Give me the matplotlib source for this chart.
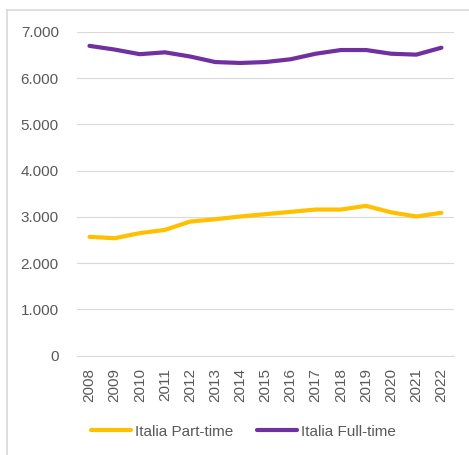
import matplotlib
matplotlib.use("Agg")
import matplotlib.pyplot as plt
from matplotlib.lines import Line2D
from matplotlib.ticker import FuncFormatter

# dati (migliaia)
years = ["2008", "2009", "2010", "2011", "2012", "2013", "2014", "2015",
         "2016", "2017", "2018", "2019", "2020", "2021", "2022"]
part_time = [2570, 2540, 2650, 2720, 2900, 2950, 3010, 3060,
             3110, 3160, 3160, 3240, 3100, 3010, 3090]
full_time = [6700, 6620, 6520, 6560, 6470, 6350, 6330, 6350,
             6410, 6530, 6610, 6610, 6530, 6510, 6660]

plt.rcParams['font.family'] = ['Liberation Sans', 'DejaVu Sans']

fig = plt.figure(figsize=(4.69, 4.55), dpi=100)
ax = fig.add_axes([0.164, 0.2183, 0.804, 0.7114])

x = range(len(years))
ax.plot(x, part_time, color='#FFC000', lw=3.0, solid_capstyle='round',
        label='Italia Part-time', zorder=3)
ax.plot(x, full_time, color='#7030A0', lw=3.0, solid_capstyle='round',
        label='Italia Full-time', zorder=3)

ax.set_xlim(-0.5, len(years) - 0.5)
ax.set_ylim(0, 7000)
ax.set_yticks(range(0, 7001, 1000))
ax.yaxis.set_major_formatter(FuncFormatter(lambda v, p: f"{int(v):,}".replace(",", ".")))
ax.set_xticks(list(x))
ax.set_xticklabels(years, rotation=90)

ax.grid(axis='y', color='#D9D9D9', lw=0.8, zorder=0)
ax.set_axisbelow(True)
for s in ['top', 'right', 'left']:
    ax.spines[s].set_visible(False)
ax.spines['bottom'].set_color('#D9D9D9')
ax.spines['bottom'].set_linewidth(0.8)
ax.tick_params(axis='y', length=0, pad=13, labelsize=11, labelcolor='#595959')
ax.tick_params(axis='x', length=0, pad=9, labelsize=11, labelcolor='#595959')

fig.legend(loc='center', bbox_to_anchor=(0.519, 0.051), ncol=2, frameon=False,
           fontsize=11, labelcolor='#595959', handlelength=2.6,
           handletextpad=0.25, columnspacing=1.6)

# bordo dell'area grafico (tagliato a destra e in basso)
fig.add_artist(Line2D([7 / 469, 7 / 469], [0, 1 - 10 / 455], color='#D9D9D9', lw=1.2))
fig.add_artist(Line2D([7 / 469, 1], [1 - 10 / 455, 1 - 10 / 455], color='#D9D9D9', lw=1.2))

fig.savefig("out.png", dpi=100)
